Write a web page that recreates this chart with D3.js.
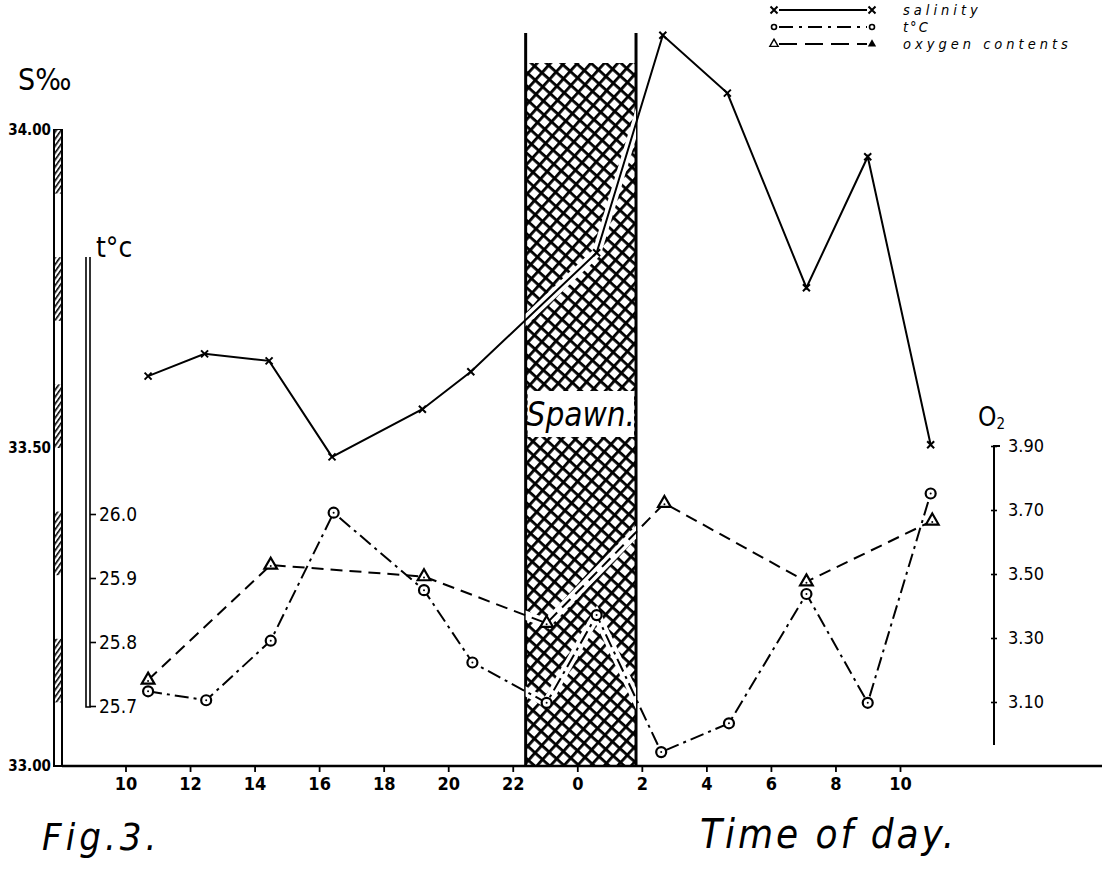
<!DOCTYPE html>
<html><head><meta charset="utf-8">
<script src="https://cdn.jsdelivr.net/npm/d3@7"></script>
<style>
body{margin:0;background:#fff;}
svg{display:block;}
text{font-family:"DejaVu Sans",sans-serif;font-stretch:condensed;fill:#000;}
</style></head><body>
<svg id="c" width="1102" height="871"></svg>
<script>
// ---- data ----
const hourTicks=[10,12,14,16,18,20,22,24,26,28,30,32,34];
const salinityTimes=[10.7,12.45,14.45,16.4,19.2,20.7,24.6,26.65,28.65,31.1,33.0,34.95];
const salinityValues=[33.613,33.648,33.637,33.486,33.561,33.620,33.807,34.149,34.058,33.752,33.958,33.505];
const tempTimes=[10.7,12.5,14.5,16.45,19.25,20.75,23.05,24.6,26.6,28.7,31.1,33.0,34.95];
const tempValues=[25.723,25.709,25.802,26.002,25.881,25.768,25.705,25.842,25.628,25.673,25.875,25.705,26.032];
const oxygenTimes=[10.7,14.5,19.25,23.05,26.7,31.1,35.0];
const oxygenValues=[3.169,3.528,3.492,3.346,3.721,3.476,3.666];
const salinityTicks=[33.0,33.5,34.0];
const tempTicks=[25.7,25.8,25.9,26.0];
const oxygenTicks=[3.1,3.3,3.5,3.7,3.9];
const spawnPeriod=[22.4,25.82];
const legendLabels=["salinity","t°C","oxygen contents"];

// ---- scales ----
const svg=d3.select("#c");
const x=d3.scaleLinear().domain([10,34]).range([125.5,900]);
const yS=d3.scaleLinear().domain([33,34]).range([766,130]);
const yT=d3.scaleLinear().domain([25.7,26.0]).range([706,514]);
const yO=d3.scaleLinear().domain([3.1,3.9]).range([702,446]);

const defs=svg.append("defs");
const hp=defs.append("pattern").attr("id","hatch").attr("patternUnits","userSpaceOnUse")
  .attr("width",10).attr("height",10).attr("patternTransform","rotate(42)");
hp.append("rect").attr("width",10).attr("height",10).attr("fill","#fff");
hp.append("rect").attr("x",0).attr("y",0).attr("width",10).attr("height",2.8).attr("fill","#000");
hp.append("rect").attr("x",0).attr("y",0).attr("width",2.8).attr("height",10).attr("fill","#000");
const sp=defs.append("pattern").attr("id","stripe").attr("patternUnits","userSpaceOnUse")
  .attr("width",4).attr("height",4).attr("patternTransform","rotate(-55)");
sp.append("rect").attr("width",4).attr("height",4).attr("fill","#fff");
sp.append("rect").attr("width",4).attr("height",1.6).attr("fill","#000");

const sx0=x(spawnPeriod[0]), sx1=x(spawnPeriod[1]);
const hatchTop=63, lineTop=33, base=766;
defs.append("clipPath").attr("id","spawnClip").append("rect")
  .attr("x",sx0).attr("y",hatchTop).attr("width",sx1-sx0).attr("height",base-hatchTop);

// ---- spawn region ----
svg.append("rect").attr("x",sx0).attr("y",hatchTop).attr("width",sx1-sx0).attr("height",base-hatchTop)
  .attr("fill","url(#hatch)");
[sx0,sx1].forEach(v=>svg.append("line").attr("x1",v).attr("x2",v).attr("y1",lineTop).attr("y2",base)
  .attr("stroke","#000").attr("stroke-width",3));
svg.append("rect").attr("x",sx0+2).attr("y",391).attr("width",sx1-sx0-4).attr("height",46).attr("fill","#fff");
svg.append("text").attr("x",(sx0+sx1)/2).attr("y",426).attr("text-anchor","middle")
  .attr("font-size",33).attr("font-style","italic").text("Spawn.");

// ---- salinity bar axis ----
const barX=54, barW=8;
svg.append("rect").attr("x",barX).attr("y",yS(34)).attr("width",barW).attr("height",yS(33)-yS(34))
  .attr("fill","#fff").attr("stroke","#000").attr("stroke-width",2);
for(let v=33.1; v<33.95; v+=0.2){
  svg.append("rect").attr("x",barX+1).attr("y",yS(v+0.1)).attr("width",barW-2).attr("height",yS(v)-yS(v+0.1))
    .attr("fill","url(#stripe)");
}
const gS=svg.append("g").attr("transform",`translate(${barX},0)`)
  .call(d3.axisLeft(yS).tickValues(salinityTicks).tickFormat(d3.format(".2f")).tickSize(0).tickPadding(3));
gS.select(".domain").remove();
gS.selectAll("text").attr("font-size",15).attr("font-weight","bold").attr("font-family",null);
svg.append("text").attr("x",18).attr("y",90).attr("font-size",30).text("S‰");

// ---- temperature axis ----
const tX=86;
svg.append("path").attr("d",`M${tX},257V${yT(25.7)+1}H${tX+4}V257`).attr("fill","none").attr("stroke","#000").attr("stroke-width",1.6);
const gT=svg.append("g").attr("transform",`translate(${tX+4},0)`)
  .call(d3.axisRight(yT).tickValues(tempTicks).tickFormat(d3.format(".1f")).tickSize(6).tickPadding(3));
gT.select(".domain").remove();
gT.selectAll("line").attr("stroke-width",1.6);
gT.selectAll("text").attr("font-size",19).attr("font-family",null);
svg.append("text").attr("x",96).attr("y",257).attr("font-size",28).text("t°c");

// ---- oxygen axis ----
const oX=994;
svg.append("path").attr("d",`M${oX+6},${yO(3.9)}H${oX}V745`).attr("fill","none").attr("stroke","#000").attr("stroke-width",2);
const gO=svg.append("g").attr("transform",`translate(${oX},0)`)
  .call(d3.axisRight(yO).tickValues(oxygenTicks).tickFormat(d3.format(".2f")).tickSize(3).tickPadding(11));
gO.select(".domain").remove();
gO.selectAll("line").attr("x1",-3).attr("stroke-width",1.6);
gO.selectAll("text").attr("font-size",18).attr("font-family",null);
const o2=svg.append("text").attr("x",978).attr("y",426).attr("font-size",26);
o2.append("tspan").text("O");
o2.append("tspan").attr("font-size",15).attr("dy",3).text("2");

// ---- x axis ----
svg.append("line").attr("x1",barX+barW).attr("x2",1102).attr("y1",base).attr("y2",base).attr("stroke","#000").attr("stroke-width",2.6);
const gX=svg.append("g").attr("transform",`translate(0,${base})`)
  .call(d3.axisBottom(x).tickValues(hourTicks).tickFormat(h=>h%24).tickSize(6).tickPadding(5));
gX.select(".domain").remove();
gX.selectAll("line").attr("stroke-width",1.8);
gX.selectAll("text").attr("font-size",18).attr("font-weight","bold").attr("font-family",null);

// ---- series ----
const sal=salinityTimes.map((t,i)=>({t,v:salinityValues[i]}));
const tmp=tempTimes.map((t,i)=>({t,v:tempValues[i]}));
const oxy=oxygenTimes.map((t,i)=>({t,v:oxygenValues[i]}));
const lS=d3.line().x(d=>x(d.t)).y(d=>yS(d.v));
const lT=d3.line().x(d=>x(d.t)).y(d=>yT(d.v));
const lO=d3.line().x(d=>x(d.t)).y(d=>yO(d.v));
const series=[
  {data:sal,line:lS,dash:null},
  {data:tmp,line:lT,dash:"14,5,3,5"},
  {data:oxy,line:lO,dash:"12,7"}
];
const halo=svg.append("g").attr("clip-path","url(#spawnClip)");
series.forEach(s=>halo.append("path").attr("d",s.line(s.data)).attr("fill","none").attr("stroke","#fff").attr("stroke-width",9));
series.forEach(s=>svg.append("path").attr("d",s.line(s.data)).attr("fill","none").attr("stroke","#000")
  .attr("stroke-width",2).attr("stroke-dasharray",s.dash));

function xMark(g,px,py){g.append("path").attr("d",`M${px-3.5},${py-3.5}L${px+3.5},${py+3.5}M${px-3.5},${py+3.5}L${px+3.5},${py-3.5}`)
  .attr("stroke","#000").attr("stroke-width",2);}
function oMark(g,px,py){g.append("circle").attr("cx",px).attr("cy",py).attr("r",5).attr("fill","#fff").attr("stroke","#000").attr("stroke-width",2.2);
  g.append("circle").attr("cx",px).attr("cy",py).attr("r",1).attr("fill","#000");}
const tri=d3.symbol(d3.symbolTriangle).size(70);
function tMark(g,px,py,filled){g.append("path").attr("d",tri()).attr("transform",`translate(${px},${py})`)
  .attr("fill",filled?"#000":"#fff").attr("stroke","#000").attr("stroke-width",2.2);
  if(!filled) g.append("circle").attr("cx",px).attr("cy",py+1).attr("r",1).attr("fill","#000");}
const mk=svg.append("g");
sal.forEach(d=>xMark(mk,x(d.t),yS(d.v)));
tmp.forEach(d=>oMark(mk,x(d.t),yT(d.v)));
oxy.forEach(d=>tMark(mk,x(d.t),yO(d.v),false));

// ---- legend ----
const lg=svg.append("g");
const rowY=[10,27,44], lx0=774, lx1=872;
const dashes=[null,"14,6,3,6","18,8"];
rowY.forEach((ry,i)=>{
  lg.append("line").attr("x1",lx0+5).attr("x2",lx1-5).attr("y1",ry).attr("y2",ry).attr("stroke","#000").attr("stroke-width",2).attr("stroke-dasharray",dashes[i]);
  if(i===0){xMark(lg,lx0,ry);xMark(lg,lx1,ry);}
  if(i===1){lg.append("circle").attr("cx",lx0).attr("cy",ry).attr("r",2.5).attr("fill","#fff").attr("stroke","#000").attr("stroke-width",1.6);
            lg.append("circle").attr("cx",lx1).attr("cy",ry).attr("r",2.5).attr("fill","#fff").attr("stroke","#000").attr("stroke-width",1.6);}
  if(i===2){const st=d3.symbol(d3.symbolTriangle).size(30);
    lg.append("path").attr("d",st()).attr("transform",`translate(${lx0},${ry})`).attr("fill","#fff").attr("stroke","#000").attr("stroke-width",1.4);
    lg.append("path").attr("d",st()).attr("transform",`translate(${lx1},${ry})`).attr("fill","#000");}
  lg.append("text").attr("x",903).attr("y",ry+5).attr("font-size",14.5).attr("font-style","italic")
    .attr("letter-spacing",i===1?2:4).text(legendLabels[i]);
});

// ---- captions ----
svg.append("text").attr("x",42).attr("y",850).attr("font-size",38).attr("font-style","italic").attr("letter-spacing",4).text("Fig.3.");
svg.append("text").attr("x",700).attr("y",848).attr("font-size",40).attr("font-style","italic").attr("letter-spacing",3).text("Time of day.");
</script>
</body></html>
